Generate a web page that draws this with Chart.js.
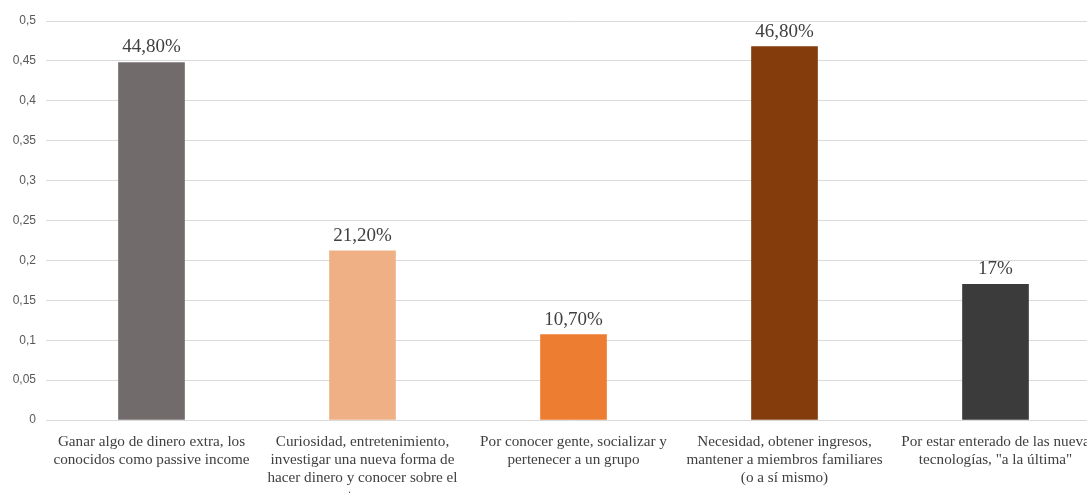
<!DOCTYPE html>
<html>
<head>
<meta charset="utf-8">
<script src="https://cdn.jsdelivr.net/npm/chart.js@4"></script>
<style>
  html, body { margin: 0; padding: 0; background: #fff; }
  #wrap { width: 1087px; height: 493px; overflow: hidden; position: relative; }
  #grafico { display: block; }
</style>
</head>
<body>
<div id="wrap"><canvas id="grafico" width="1101" height="520"></canvas></div>
<script>
const categorias = [
    ["Ganar algo de dinero extra, los", "conocidos como passive income"],
    ["Curiosidad, entretenimiento,", "investigar una nueva forma de", "hacer dinero y conocer sobre el", "tema"],
    ["Por conocer gente, socializar y", "pertenecer a un grupo"],
    ["Necesidad, obtener ingresos,", "mantener a miembros familiares", "(o a sí mismo)"],
    ["Por estar enterado de las nueva", "tecnologías, \"a la última\""],
];
const valores = [0.448, 0.212, 0.107, 0.468, 0.17];
const etiquetas = ["44,80%", "21,20%", "10,70%", "46,80%", "17%"];
const colores = ["#716C6B", "#F0B086", "#ED7D31", "#843C0C", "#3B3B3B"];
const ticksY = [0, 0.05, 0.1, 0.15, 0.2, 0.25, 0.3, 0.35, 0.4, 0.45, 0.5];

// texto encima de cada barra
const valorArriba = {
    id: "valorArriba",
    afterDatasetsDraw(chart) {
        const ctx = chart.ctx;
        const meta = chart.getDatasetMeta(0);
        ctx.save();
        ctx.font = "19px 'Liberation Serif', 'Times New Roman', serif";
        ctx.fillStyle = "#404040";
        ctx.textAlign = "center";
        ctx.textBaseline = "alphabetic";
        meta.data.forEach((bar, i) => {
            ctx.fillText(etiquetas[i], bar.x, bar.y - 10);
        });
        ctx.restore();
    },
};

function generarGrafico() {
    const info = {
        labels: categorias,
        datasets: [
            {
                data: valores,
                backgroundColor: colores,
                barThickness: 66,
                borderWidth: 0,
            },
        ],
    };
    const options = {
        responsive: false,
        animation: false,
        devicePixelRatio: 1,
        layout: { padding: { top: 21, left: 0, right: 0, bottom: 0 } },
        scales: {
            y: {
                min: 0,
                max: 0.5,
                afterBuildTicks: (scale) => {
                    scale.ticks = ticksY.map((v) => ({ value: v }));
                },
                afterFit: (scale) => { scale.width = 46; },
                ticks: {
                    padding: 10,
                    color: "#595959",
                    font: { family: "'Liberation Sans', Arial, sans-serif", size: 12 },
                    callback: (v) => String(+Number(v).toFixed(2)).replace(".", ","),
                },
                grid: {
                    color: "#D9D9D9",
                    lineWidth: 1,
                    drawTicks: false,
                },
                border: { display: false },
            },
            x: {
                afterFit: (scale) => { scale.height = 100; },
                ticks: {
                    padding: 5,
                    autoSkip: false,
                    maxRotation: 0,
                    minRotation: 0,
                    color: "#404040",
                    font: { family: "'Liberation Serif', 'Times New Roman', serif", size: 15.2, lineHeight: 18 / 15.2 },
                },
                grid: { display: false },
                border: { display: false },
            },
        },
        plugins: {
            legend: { display: false },
            tooltip: { enabled: false },
        },
    };
    const config = {
        type: "bar",
        data: info,
        options,
        plugins: [valorArriba],
    };
    new Chart(document.getElementById("grafico"), config);
}
generarGrafico();
</script>
</body>
</html>
